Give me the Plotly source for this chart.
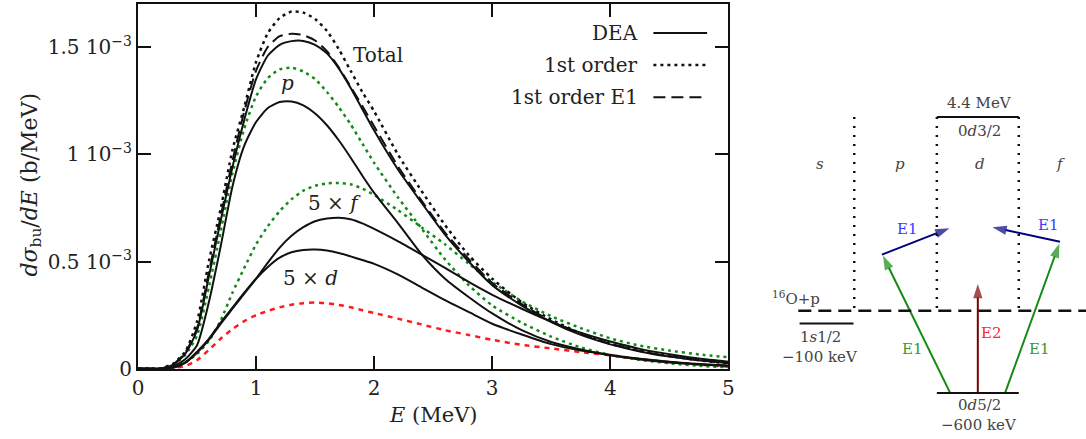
import plotly.graph_objects as go

# ---------------- data ----------------
E = [0, 0.1, 0.2, 0.3, 0.4, 0.5, 0.6, 0.7, 0.8, 0.9, 1.0, 1.1, 1.2, 1.3, 1.4, 1.5, 1.6,
     1.7, 1.8, 1.9, 2.0, 2.2, 2.4, 2.6, 2.8, 3.0, 3.25, 3.5, 3.75, 4.0, 4.25, 4.5, 4.75, 5.0]

# values in units of 1e-3 b/MeV
total_1st = [0, 0, 0.003, 0.025, 0.08, 0.22, 0.50, 0.745, 1.02, 1.22, 1.43, 1.565, 1.635, 1.665,
             1.66, 1.63, 1.575, 1.49, 1.39, 1.29, 1.20, 1.00, 0.83, 0.67, 0.53, 0.42, 0.31, 0.23,
             0.165, 0.117, 0.085, 0.06, 0.04, 0.025]
total_1st_E1 = [0, 0, 0.002, 0.022, 0.075, 0.19, 0.45, 0.71, 0.97, 1.20, 1.39, 1.50, 1.55, 1.561,
                1.555, 1.53, 1.48, 1.405, 1.315, 1.225, 1.13, 0.945, 0.785, 0.635, 0.512, 0.40,
                0.302, 0.222, 0.162, 0.117, 0.083, 0.059, 0.041, 0.028]
total_dea = [0, 0, 0.002, 0.02, 0.07, 0.18, 0.43, 0.69, 0.94, 1.16, 1.35, 1.46, 1.51, 1.527,
             1.528, 1.51, 1.47, 1.40, 1.31, 1.21, 1.11, 0.93, 0.775, 0.625, 0.50, 0.39, 0.295,
             0.218, 0.158, 0.114, 0.081, 0.057, 0.04, 0.027]
p_1st = [0, 0, 0.002, 0.02, 0.065, 0.155, 0.38, 0.64, 0.91, 1.12, 1.27, 1.355, 1.395, 1.403,
         1.385, 1.35, 1.29, 1.22, 1.14, 1.05, 0.96, 0.80, 0.655, 0.51, 0.39, 0.295, 0.215, 0.15,
         0.10, 0.065, 0.042, 0.026, 0.014, 0.007]
p_dea = [0, 0, 0.001, 0.012, 0.045, 0.11, 0.31, 0.57, 0.85, 1.04, 1.15, 1.215, 1.243, 1.246,
         1.228, 1.19, 1.135, 1.065, 0.985, 0.90, 0.82, 0.68, 0.535, 0.42, 0.335, 0.258, 0.18,
         0.125, 0.09, 0.063, 0.044, 0.03, 0.02, 0.013]
f5_1st = [0, 0, 0, 0.007, 0.03, 0.07, 0.13, 0.225, 0.355, 0.47, 0.58, 0.665, 0.735, 0.79, 0.83,
          0.853, 0.864, 0.866, 0.86, 0.84, 0.81, 0.74, 0.66, 0.58, 0.49, 0.405, 0.315, 0.245,
          0.19, 0.142, 0.108, 0.085, 0.067, 0.054]
f5_dea = [0, 0, 0, 0.005, 0.028, 0.075, 0.135, 0.21, 0.28, 0.35, 0.42, 0.495, 0.565, 0.62, 0.66,
          0.688, 0.70, 0.704, 0.697, 0.678, 0.652, 0.595, 0.533, 0.47, 0.405, 0.345, 0.28, 0.22,
          0.168, 0.127, 0.093, 0.068, 0.048, 0.033]
d5_dea = [0, 0, 0, 0.006, 0.03, 0.08, 0.14, 0.215, 0.285, 0.355, 0.42, 0.475, 0.518, 0.543,
          0.554, 0.556, 0.551, 0.54, 0.524, 0.507, 0.489, 0.44, 0.38, 0.32, 0.265, 0.21, 0.16,
          0.115, 0.085, 0.065, 0.047, 0.033, 0.023, 0.016]
d5_1st = [0, 0, 0, 0.003, 0.013, 0.04, 0.088, 0.14, 0.185, 0.222, 0.25, 0.27, 0.287, 0.299,
          0.306, 0.309, 0.306, 0.298, 0.287, 0.273, 0.26, 0.234, 0.207, 0.18, 0.158, 0.135,
          0.112, 0.095, 0.078, 0.063, 0.046, 0.032, 0.02, 0.01]

x_ticks = [0, 1, 2, 3, 4, 5]
y_ticks = [0, 0.5e-3, 1e-3, 1.5e-3]
y_ticklabels = ["0", "0.5 10<sup>−3</sup>", "1 10<sup>−3</sup>", "1.5 10<sup>−3</sup>"]
legend_names = ["DEA", "1st order", "1st order E1"]
curve_labels = ["Total", "<i>p</i>", "5 × <i>f</i>", "5 × <i>d</i>"]
label_E = [1.80, 1.266, 1.66, 1.464]
label_v = [1.463, 1.332, 0.771, 0.425]

SCALE = 1e-3
FONT = "DejaVu Serif"

BLACK = "#111111"
GREEN = "#13891a"
RED = "#ff1a1a"

fig = go.Figure()


def add(vals, color, width, dash):
    fig.add_trace(go.Scatter(
        x=E, y=[v * SCALE for v in vals], mode="lines",
        line=dict(color=color, width=width, dash=dash, shape="spline", smoothing=0.6),
        showlegend=False, hoverinfo="skip"))


add(d5_1st, RED, 2.5, "5px,5px")
add(f5_1st, GREEN, 2.5, "3px,4px")
add(p_1st, GREEN, 2.5, "3px,4px")
add(total_1st, BLACK, 2.5, "3px,4px")
add(total_1st_E1, BLACK, 2, "12px,6px")
add(d5_dea, BLACK, 2, "solid")
add(f5_dea, BLACK, 2, "solid")
add(p_dea, BLACK, 2, "solid")
add(total_dea, BLACK, 2, "solid")

# ---------------- layout geometry ----------------
# reference-frame geometry (pixels of the target picture)
W, H = 1086, 439
ML, MT = 137, 4
main_right_px = 728
main_bottom_px = 368
plot_w = W - ML
plot_h = H - MT
x_dom_end = (main_right_px - ML) / plot_w
y_dom_start = (H - main_bottom_px) / plot_h

# the capture is slightly resampled; lay the page out on a proportionally larger canvas
SX, SY = 1092 / 1086, 451.6 / 439
W_L, H_L = round(W * SX), round(H * SY)

TXT = dict(family=FONT, size=20, color="#222")

axis_common = dict(showline=True, linewidth=2, linecolor=BLACK, mirror="ticks",
                   ticks="inside", ticklen=13, tickwidth=2, tickcolor=BLACK,
                   showgrid=False, zeroline=False, tickfont=TXT)

fig.update_layout(
    width=W_L, height=H_L, autosize=False,
    margin=dict(l=ML * SX, r=0, t=MT * SY, b=0, pad=0),
    paper_bgcolor="white", plot_bgcolor="white",
    showlegend=False,
    xaxis=dict(range=[0, 5], domain=[0, x_dom_end], tickvals=x_ticks,
               ticktext=[str(t) for t in x_ticks], **axis_common),
    yaxis=dict(range=[0, 1.7e-3], domain=[y_dom_start, 1], tickvals=y_ticks,
               ticktext=y_ticklabels, **axis_common),
    xaxis2=dict(range=[main_right_px, W], domain=[x_dom_end, 1], visible=False,
                anchor="y2", fixedrange=True),
    yaxis2=dict(range=[H, MT], domain=[0, 1], visible=False, anchor="x2",
                fixedrange=True),
)

annotations = []
shapes = []

# axis titles
annotations.append(dict(xref="paper", yref="paper",
                        x=(30 - ML) / plot_w, y=(H - 184) / plot_h,
                        text="<i>dσ</i><sub>bu</sub>/<i>dE</i> (b/MeV)", textangle=-90,
                        showarrow=False, font=dict(family=FONT, size=22, color="#222"),
                        xanchor="center", yanchor="middle"))
annotations.append(dict(xref="x", yref="paper", x=2.5, y=(H - 414) / plot_h,
                        text="<i>E</i> (MeV)", showarrow=False,
                        font=dict(family=FONT, size=21, color="#222"),
                        xanchor="center", yanchor="middle"))

# curve labels
for i, (t, xe, yv) in enumerate(zip(curve_labels, label_E, label_v)):
    annotations.append(dict(xref="x", yref="y", x=xe, y=yv * SCALE, text=t, showarrow=False,
                            font=TXT, xanchor="left" if i == 0 else "center",
                            yanchor="middle"))

# legend (text to the left of the line sample)
leg_y = [1.565, 1.416, 1.266]
leg_dash = ["solid", "3px,4px", "12px,6px"]
leg_w = [2, 2.5, 2]
for name, yv, dsh, lw in zip(legend_names, leg_y, leg_dash, leg_w):
    annotations.append(dict(xref="x", yref="y", x=4.255, y=yv * SCALE, text=name,
                            showarrow=False, xanchor="right", yanchor="middle", font=TXT))
    shapes.append(dict(type="line", xref="x", yref="y", x0=4.365, x1=4.82,
                       y0=yv * SCALE, y1=yv * SCALE, line=dict(color=BLACK, width=lw, dash=dsh)))

# ---------------- level scheme (schematic, drawn on x2/y2) ----------------
DFONT = dict(family=FONT, size=15, color="#444")
col_bounds = [854, 936.7, 1018.7]
col_top, threshold_y = 116.7, 310
for xb in col_bounds:
    shapes.append(dict(type="line", xref="x2", yref="y2", x0=xb, x1=xb, y0=col_top,
                       y1=threshold_y, line=dict(color=BLACK, width=2.5, dash="2px,7px")))
shapes.append(dict(type="line", xref="x2", yref="y2", x0=798, x1=1086, y0=threshold_y,
                   y1=threshold_y, line=dict(color=BLACK, width=2.5, dash="13px,7px")))

level_x0 = [936.7, 799.3, 936.7]
level_x1 = [1018.7, 853.3, 1018.7]
level_y = [116.7, 322.7, 392]
for a, b, yy in zip(level_x0, level_x1, level_y):
    shapes.append(dict(type="line", xref="x2", yref="y2", x0=a, x1=b, y0=yy, y1=yy,
                       line=dict(color=BLACK, width=2)))

diag_texts = ["4.4 MeV", "0<i>d</i>3/2", "1<i>s</i>1/2", "−100 keV", "0<i>d</i>5/2",
              "−600 keV", "<i>s</i>", "<i>p</i>", "<i>d</i>", "<i>f</i>"]
diag_tx = [979, 979, 820, 819.3, 979, 979, 819.3, 900, 980, 1060]
diag_ty = [103, 130.7, 336, 356, 404, 424, 163.3, 163.3, 163.3, 163.3]
for t, xx, yy in zip(diag_texts, diag_tx, diag_ty):
    annotations.append(dict(xref="x2", yref="y2", x=xx, y=yy, text=t, showarrow=False,
                            font=DFONT, xanchor="center", yanchor="middle"))
annotations.append(dict(xref="x2", yref="y2", x=770, y=297, text="<sup>16</sup>O+p",
                        showarrow=False, font=DFONT, xanchor="left", yanchor="middle"))

# arrows: (tail x, tail y, head x, head y, colour) drawn as 2-point lines with an arrow marker
arrow_tail_x = [950, 1005, 977.7, 881.7, 1060]
arrow_tail_y = [392, 392, 392, 254, 241.3]
arrow_head_x = [882.7, 1059.3, 977.7, 949.3, 992.3]
arrow_head_y = [255, 243, 283.3, 227.7, 226.7]
arrow_col = ["#138a13", "#138a13", "#7a0000", "#000080", "#000080"]
for tx, ty, hx, hy, c in zip(arrow_tail_x, arrow_tail_y, arrow_head_x, arrow_head_y, arrow_col):
    fig.add_trace(go.Scatter(
        x=[tx, hx], y=[ty, hy], xaxis="x2", yaxis="y2", mode="lines+markers",
        line=dict(color=c, width=2),
        marker=dict(symbol="arrow", size=[0, 15], color=c, angleref="previous",
                    standoff=0, line=dict(width=0)),
        showlegend=False, hoverinfo="skip", cliponaxis=False))

arrow_lbl = ["E1", "E1", "E2", "E1", "E1"]
arrow_lbl_x = [912.7, 1039, 991.7, 907.7, 1048.3]
arrow_lbl_y = [348.3, 348.3, 332.7, 228.3, 224]
arrow_lbl_c = ["#2f9a2f", "#2f9a2f", "#ff2a2a", "#3a3aff", "#3a3aff"]
for t, xx, yy, c in zip(arrow_lbl, arrow_lbl_x, arrow_lbl_y, arrow_lbl_c):
    annotations.append(dict(xref="x2", yref="y2", x=xx, y=yy, text=t, showarrow=False,
                            font=dict(family=FONT, size=15, color=c),
                            xanchor="center", yanchor="middle"))

fig.update_layout(annotations=annotations, shapes=shapes)
fig.write_html(
    "out.html",
    config={"displayModeBar": False, "responsive": False, "staticPlot": True},
    post_script=("document.documentElement.style.margin='0';"
                 "document.documentElement.style.overflow='hidden';"
                 "document.body.style.margin='0';document.body.style.padding='0';"
                 "document.body.style.overflow='hidden';"))
